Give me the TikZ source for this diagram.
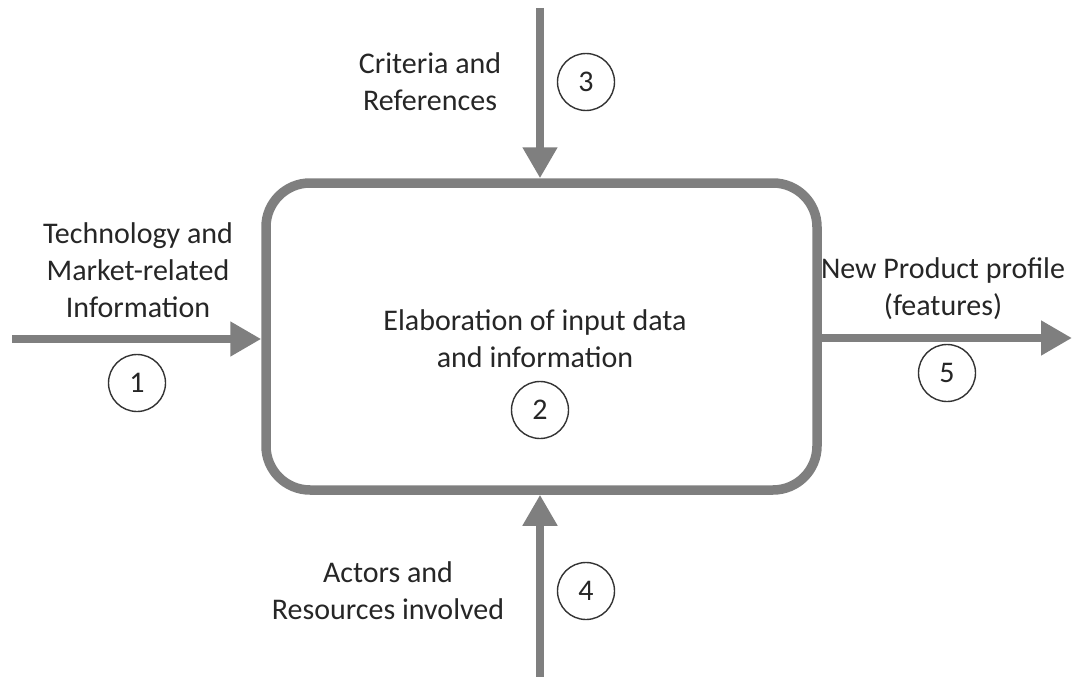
\documentclass[tikz,border=0pt]{standalone}
\usepackage{fontspec}
\setmainfont{Carlito}
\usetikzlibrary{arrows.meta}
\definecolor{flowgray}{HTML}{7F7F7F}
\begin{document}
\begin{tikzpicture}[x=1pt,y=-1pt,
  lbl/.style={align=center,font=\fontsize{30}{37}\selectfont,text=black!85},
  num/.style={draw=black!80,line width=1.4pt,circle,minimum size=57pt,inner sep=0pt,font=\fontsize{30}{34}\selectfont,text=black!85},
  flow/.style={draw=flowgray,line width=8pt,-{Triangle[width=33pt,length=31pt]}},
  procbox/.style={draw=flowgray,line width=9.5pt,rounded corners=44pt,minimum width=551pt,minimum height=307pt,inner sep=0pt}]
\useasboundingbox (0,0) rectangle (1082,677);
% central process
\node[procbox] (box) at (541.5,336.5) {};
\node[lbl] (boxtxt) at (535,339) {Elaboration of input data\\and information};
\node[num] (n2) at (540,410) {2};
% free ends of the four flows
\coordinate (inL) at (12,339);
\coordinate (inT) at (540,8);
\coordinate (inB) at (540,677);
\coordinate (outR) at (1072,338);
\draw[flow] (inL) -- (inL -| box.west);
\draw[flow] (inT) -- (box.north -| inT);
\draw[flow] (inB) -- (box.south -| inB);
\draw[flow] (box.east |- outR) -- (outR);
% labels
\node[lbl] (tin) at (138,270) {Technology and\\Market-related\\Information};
\node[num] (n1) at (137,383) {1};
\node[lbl] (tcr) at (430,82) {Criteria and\\References};
\node[num] (n3) at (586,82) {3};
\node[lbl] (tac) at (388,591) {Actors and\\Resources involved};
\node[num] (n4) at (586,591) {4};
\node[lbl] (tnp) at (943,289) {New Product profile\\(features)};
\node[num] (n5) at (947,373) {5};
\end{tikzpicture}
\end{document}
